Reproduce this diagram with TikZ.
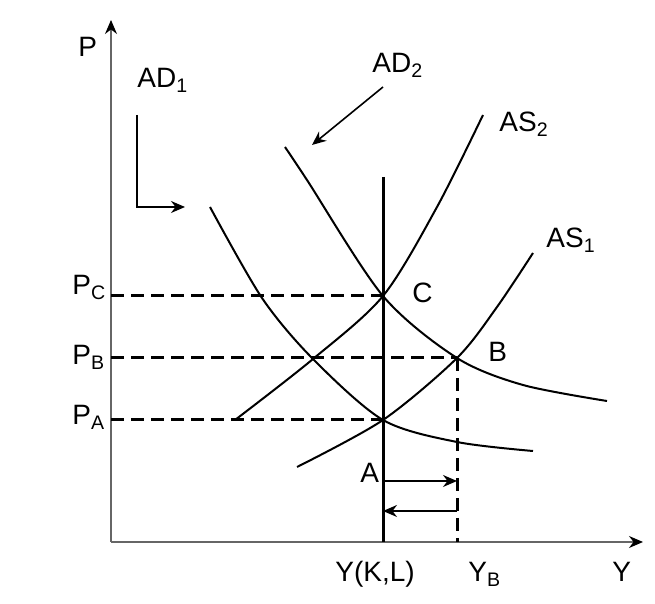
\documentclass[tikz,border=0pt]{standalone}
\usepackage{fontspec}
\setmainfont{Liberation Sans}
\usetikzlibrary{arrows.meta}

\begin{document}
\begin{tikzpicture}[x=0.5pt, y=-0.5pt,
    axisline/.style={draw=black!60, line width=0.75pt, -{Stealth[black, length=7pt, width=6pt]}},
    curveline/.style={draw=black, line width=1pt},
    levelline/.style={draw=black, line width=1.5pt, dash pattern=on 6.5pt off 3.5pt},
    shiftarrow/.style={draw=black, line width=0.8pt, -{Stealth[length=7pt, width=6pt]}},
    lbl/.style={anchor=base west, inner sep=0pt, font=\fontsize{14}{16}\selectfont}]

    \useasboundingbox (0,0) rectangle (655,604);

    % points
    \coordinate (O) at (111,542);
    \coordinate (A) at (383,420);
    \coordinate (B) at (457,358);
    \coordinate (C) at (383,296);
    \coordinate (Ptop) at (111,20);
    \coordinate (Yend) at (643,542);
    \coordinate (Ltop) at (383,177);

    % axes
    \draw[axisline] (O) -- (Ptop);
    \draw[axisline] (O) -- (Yend);

    % price levels
    \draw[levelline] (C -| O) -- (C);
    \draw[levelline] (B -| O) -- (B);
    \draw[levelline] (A -| O) -- (A);
    \draw[levelline] (B) -- (B |- O);

    % potential output
    \draw[draw=black, line width=1.5pt] (Ltop) -- (A |- O);

    % curves
    \draw[curveline] plot[smooth] coordinates {(297,467) (A) (B) (497,307) (533,253)};
    \draw[curveline] plot[smooth] coordinates {(235,420) (313,359) (C) (437,207) (483,115)};
    \draw[curveline] plot[smooth] coordinates {(210,207) (262,298) (313,359) (A) (457,442) (533,451)};
    \draw[curveline] plot[smooth] coordinates {(285,147) (307,180) (C) (B) (523,385) (607,401)};

    % shift arrows
    \coordinate (s1a) at (137,115);
    \coordinate (s1b) at (185,207);
    \coordinate (s2a) at (383,87);
    \coordinate (s2b) at (312,145);
    \coordinate (r1) at (457,481);
    \coordinate (r2) at (457,511);
    \draw[shiftarrow] (s1a) |- (s1b);
    \draw[shiftarrow] (s2a) -- (s2b);
    \draw[shiftarrow] (A |- r1) -- (r1);
    \draw[shiftarrow] (r2) -- (A |- r2);

    % labels
    \node[lbl] (Plab) at (78,57) {P};
    \node[lbl] (Ylab) at (612,582) {Y};
    \node[lbl] (PClab) at (72,295) {P\textsubscript{C}};
    \node[lbl] (PBlab) at (72,365) {P\textsubscript{B}};
    \node[lbl] (PAlab) at (72,425) {P\textsubscript{A}};
    \node[lbl] (AD1lab) at (137,88) {AD\textsubscript{1}};
    \node[lbl] (AD2lab) at (372,73) {AD\textsubscript{2}};
    \node[lbl] (AS2lab) at (499,132) {AS\textsubscript{2}};
    \node[lbl] (AS1lab) at (546,248) {AS\textsubscript{1}};
    \node[lbl] (Clab) at (412,303) {C};
    \node[lbl] (Blab) at (488,362) {B};
    \node[lbl] (Alab) at (360,483) {A};
    \node[lbl] (YKLlab) at (335,582) {Y(K,L)};
    \node[lbl] (YBlab) at (468,582) {Y\textsubscript{B}};

\end{tikzpicture}
\end{document}
